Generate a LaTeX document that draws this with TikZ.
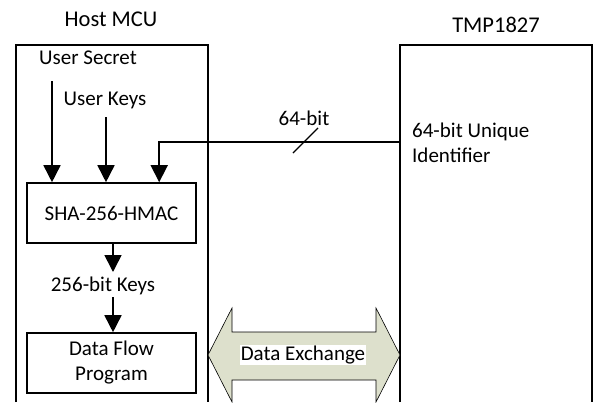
\documentclass[tikz,border=0pt]{standalone}
\usepackage{fontspec}
\setmainfont{Carlito}
\usetikzlibrary{arrows.meta,calc}
\definecolor{xfill}{RGB}{221,224,204}
\tikzset{
  body/.style={font=\fontsize{21}{26}\selectfont, inner sep=0pt},
  title/.style={font=\fontsize{22.5}{27}\selectfont, inner sep=0pt},
  frame/.style={line width=1.6pt},
  blockbox/.style={draw, line width=1.6pt, font=\fontsize{21}{26}\selectfont, align=center, inner sep=0pt},
  flow/.style={line width=1.6pt, -{Triangle[width=17pt,length=17pt]}},
}
\begin{document}
\begin{tikzpicture}[x=1pt,y=-1pt]
\useasboundingbox (0,0) rectangle (594,402);
% titles
\node[title] (hosttitle) at (111,19) {Host MCU};
\node[title] (tmptitle) at (496,25) {TMP1827};
% outer frames (open at bottom)
\draw[frame] (16,402) -- (16,45) -- (208,45) -- (208,402);
\draw[frame] (400,402) -- (400,45) -- (592,45) -- (592,402);
% inner blocks
\node[blockbox, minimum width=169pt, minimum height=60pt] (sha) at (111.5,213) {SHA-256-HMAC};
\node[blockbox, minimum width=169pt, minimum height=60pt] (dfp) at (111.5,363) {Data Flow\\[-1pt]Program};
% labels
\node[body] (secret) at (88,58) {User Secret};
\node[body] (ukeys) at (105,100) {User Keys};
\node[body] (keys256) at (103,286) {256-bit Keys};
\node[body, align=left, anchor=west] (uid) at (412,143) {64-bit Unique\\[-1pt]Identifier};
\node[body] (bits) at (304,118) {64-bit};
% arrows into SHA
\coordinate (s1) at (52,81);
\coordinate (s2) at (106,117);
\coordinate (uidpt) at (400,142);
\draw[flow] (s1) -- (s1 |- sha.north);
\draw[flow] (s2) -- (s2 |- sha.north);
\draw[line width=1.6pt, -{Triangle[width=17pt,length=17pt]}] (uidpt) -| ($(sha.north west)+(133pt,0)$);
\draw[line width=1.4pt] (293,153) -- (318,128);
% SHA -> keys -> DFP
\draw[flow] (sha.south -| 113,0) -- (113,272);
\draw[flow] (113,297) -- (dfp.north -| 113,0);
% data exchange double arrow
\draw[fill=xfill, line width=0.6pt] (208,355) -- (232,308) -- (232,332) -- (376,332) -- (376,308) -- (400,355) -- (376,402) -- (376,380) -- (232,380) -- (232,402) -- cycle;
\node[body, fill=white, inner sep=1pt] (dx) at (303,355) {Data Exchange};
\end{tikzpicture}
\end{document}
